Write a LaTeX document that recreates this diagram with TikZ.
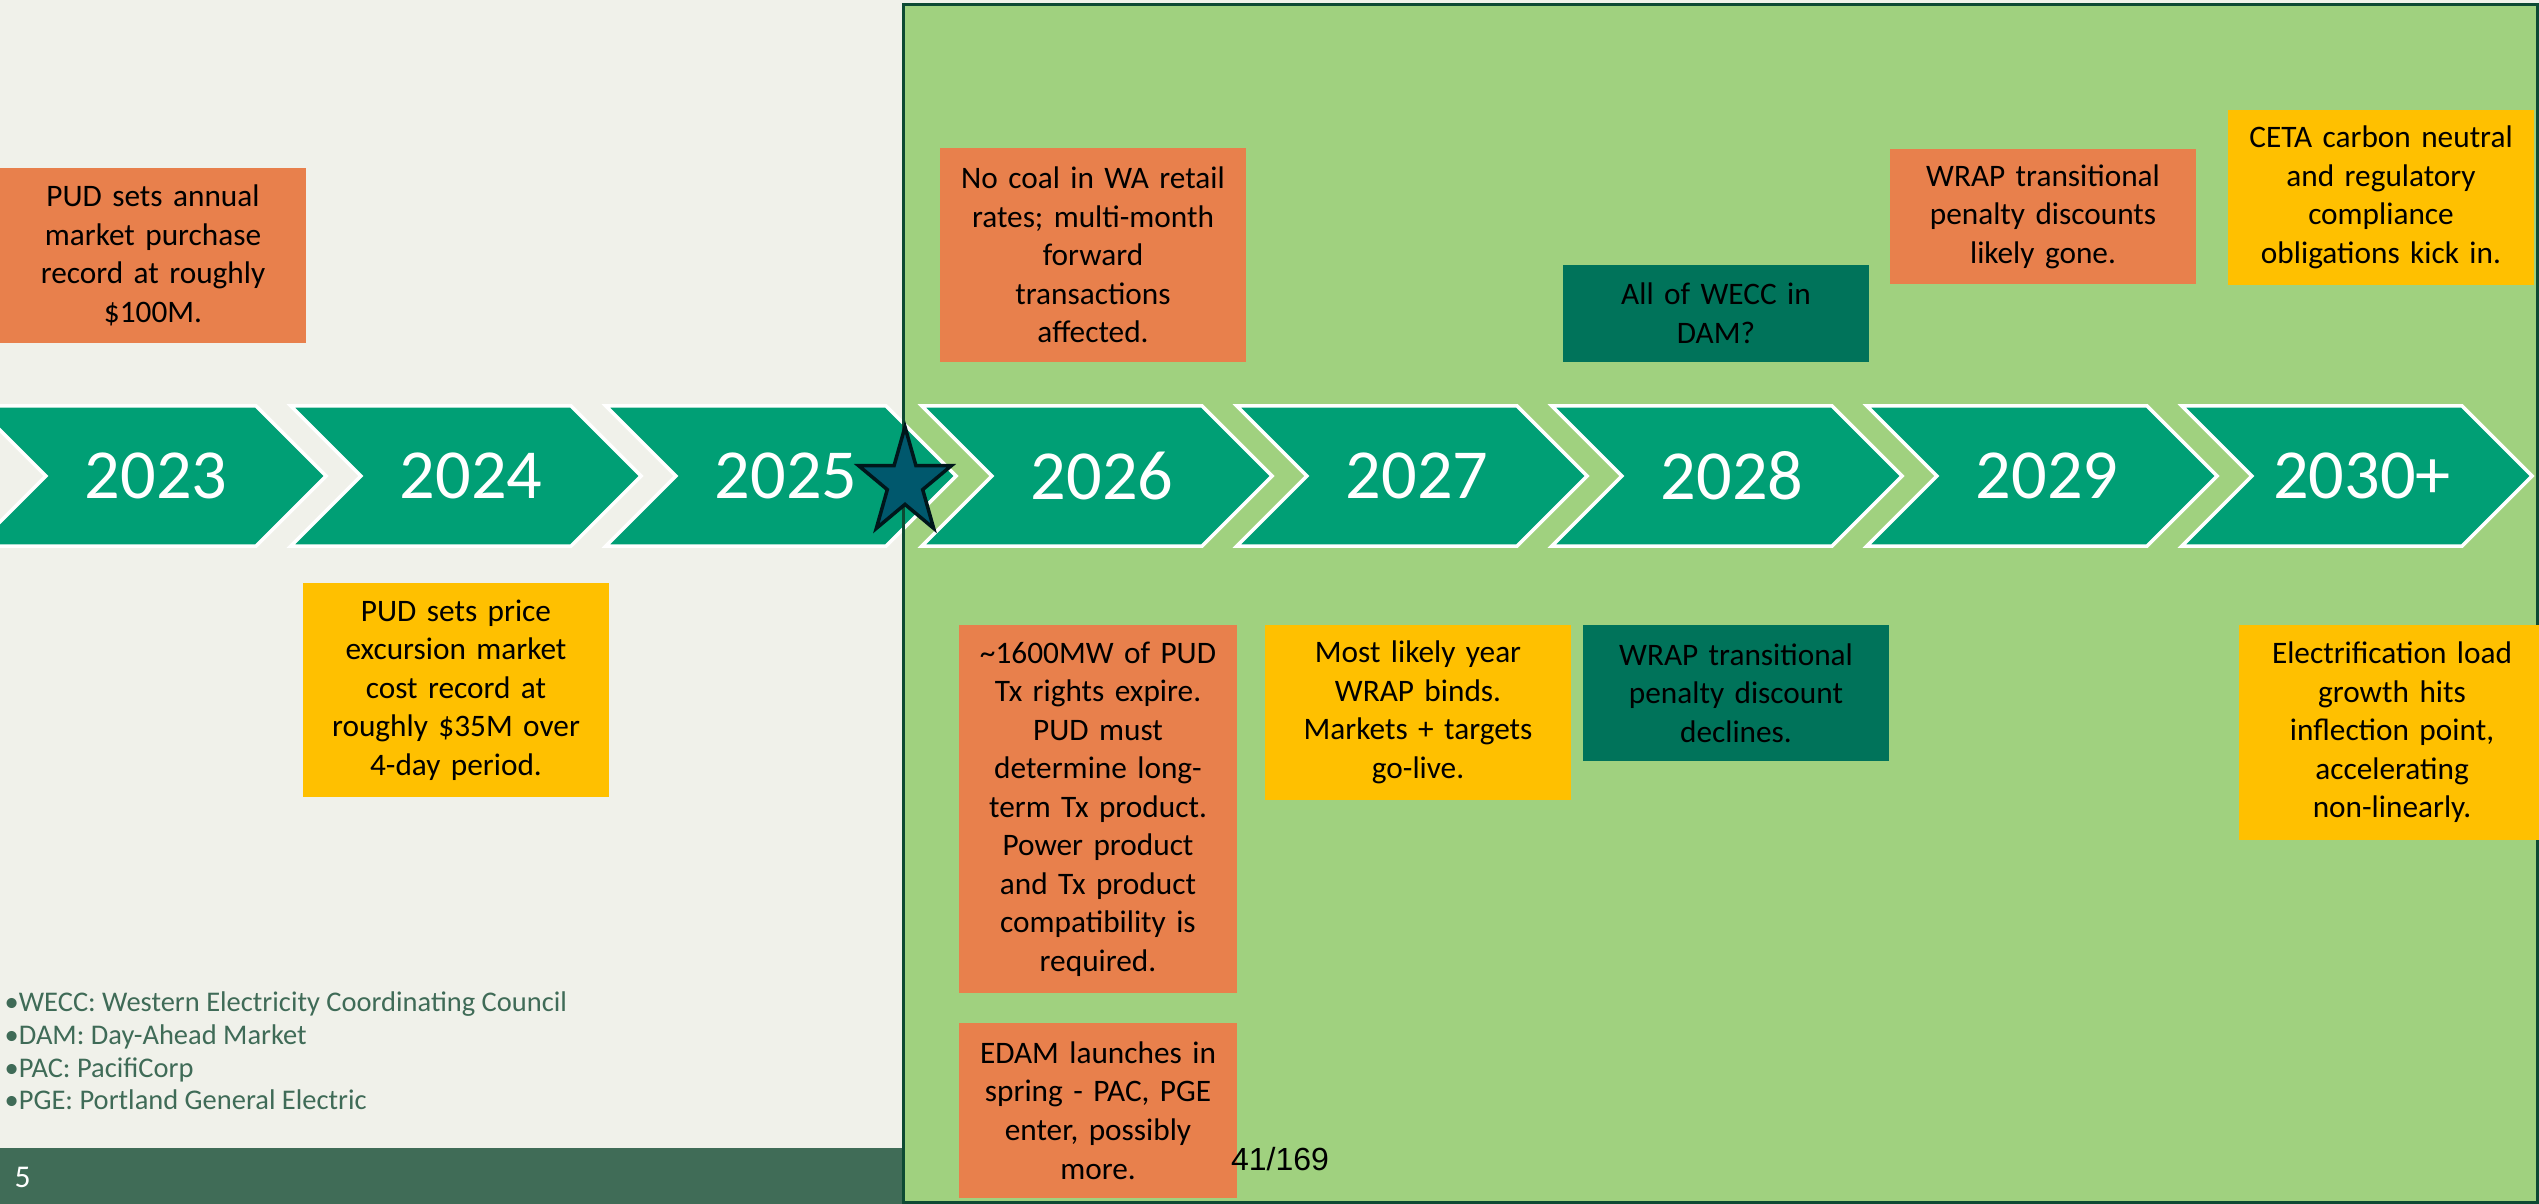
\documentclass[tikz,border=0pt]{standalone}
\usepackage{fontspec}
\setmainfont{Carlito}
\newfontfamily\arialfont{Liberation Sans}
\usetikzlibrary{shapes.symbols,shapes.geometric}

\definecolor{paper}{HTML}{F0F1EA}
\definecolor{panel}{HTML}{A0D17F}
\definecolor{panelrule}{HTML}{0D4A33}
\definecolor{footer}{HTML}{406C57}
\definecolor{chevron}{HTML}{009F75}
\definecolor{orangenote}{HTML}{E8804C}
\definecolor{goldnote}{HTML}{FFC000}
\definecolor{tealnote}{HTML}{00735A}
\definecolor{startag}{HTML}{00586D}
\definecolor{legendtext}{HTML}{3F6B57}

\tikzstyle{year}=[signal, signal from=west, signal to=east, signal pointer angle=90, fill=chevron, draw=white, line width=1pt, minimum width=3.5cm, minimum height=1.4cm, inner sep=0, text=white, font=\fontsize{20}{24}\selectfont]
\tikzstyle{note}=[inner sep=0, text width=3.06cm, align=center, text=black, font=\fontsize{8.9}{10.95}\selectfont]
\tikzstyle{hot}=[note, fill=orangenote]
\tikzstyle{warm}=[note, fill=goldnote]
\tikzstyle{cool}=[note, fill=tealnote]

\begin{document}
\begin{tikzpicture}[x=0.01cm, y=-0.01cm]
  \fill[paper] (0,0) rectangle (2539,1204);
  \useasboundingbox (0,0) rectangle (2539,1204);

  % right-hand panel and footer
  \fill[panel] (903,5) rectangle (2539,1204);
  \fill[footer] (0,1148) rectangle (903,1204);

  % years
  \node[year] (y23) at (151,476) {\hspace*{0.1cm}2023};
  \node[year] (y24) at (466,476) {\hspace*{0.1cm}2024};
  \node[year] (y25) at (781,476) {\hspace*{0.1cm}2025};
  \node[year] (y26) at (1097,476) {\hspace*{0.1cm}2026};
  \node[year] (y27) at (1412,476) {\hspace*{0.1cm}2027};
  \node[year] (y28) at (1727,476) {\hspace*{0.1cm}2028};
  \node[year] (y29) at (2042,476) {\hspace*{0.1cm}2029};
  \node[year] (y30) at (2357,476) {\hspace*{0.1cm}2030+};

  \draw[panelrule, line width=0.03cm] (903,5) rectangle (2537,1202);

  \node[star, star points=5, star point ratio=2.62, minimum size=1.12cm, inner sep=0,
        fill=startag, draw=black!75!startag, line width=1pt, xscale=0.87, transform shape] (now) at (905,483) {};

  % events
  \node[hot, minimum height=1.75cm] (buy23) at (153,255.5) {PUD sets annual\\market purchase\\record at roughly\\\$100M.};
  \node[warm, minimum height=2.14cm] (spike24) at (456,690) {PUD sets price\\excursion market\\cost record at\\roughly \$35M over\\4-day period.};
  \node[hot, minimum height=2.14cm] (coal26) at (1093,255) {No coal in WA retail\\rates; multi-month\\forward\\transactions\\affected.};
  \node[cool, minimum height=0.97cm] (wecc28) at (1716,313.5) {All of WECC in\\DAM?};
  \node[hot, minimum height=1.35cm] (wrap29) at (2043,216.5) {WRAP transitional\\penalty discounts\\likely gone.};
  \node[warm, minimum height=1.75cm] (ceta30) at (2381,197.5) {CETA carbon neutral\\and regulatory\\compliance\\obligations kick in.};

  \node[hot, minimum height=3.68cm, text width=2.78cm] (tx26) at (1098,809) {\textasciitilde1600MW of PUD\\Tx rights expire.\\PUD must\\determine long-\\term Tx product.\\Power product\\and Tx product\\compatibility is\\required.};
  \node[hot, minimum height=1.75cm, text width=2.78cm] (edam26) at (1098,1110.5) {EDAM launches in\\spring - PAC, PGE\\enter, possibly\\more.};
  \node[warm, minimum height=1.75cm] (binds27) at (1418,712.5) {Most likely year\\WRAP binds.\\Markets + targets\\go-live.};
  \node[cool, minimum height=1.36cm] (wrap28) at (1736,693) {WRAP transitional\\penalty discount\\declines.};
  \node[warm, minimum height=2.15cm] (load30) at (2392,732.5) {Electrification load\\growth hits\\inflection point,\\accelerating\\non-linearly.};

  % glossary, page number
  \node[anchor=west, align=left, inner sep=0, text=legendtext, font=\fontsize{8.1}{9.3}\selectfont] (terms) at (4,1051)
    {•WECC: Western Electricity Coordinating Council\\•DAM: Day-Ahead Market\\•PAC: PacifiCorp\\•PGE: Portland General Electric};
  \node[anchor=west, inner sep=0, text=white, font=\fontsize{9}{11}\selectfont] (pageno) at (14,1177) {5};
  \node[inner sep=0, font=\arialfont\fontsize{9.1}{11}\selectfont] (count) at (1280,1159) {41/169};
\end{tikzpicture}
\end{document}
